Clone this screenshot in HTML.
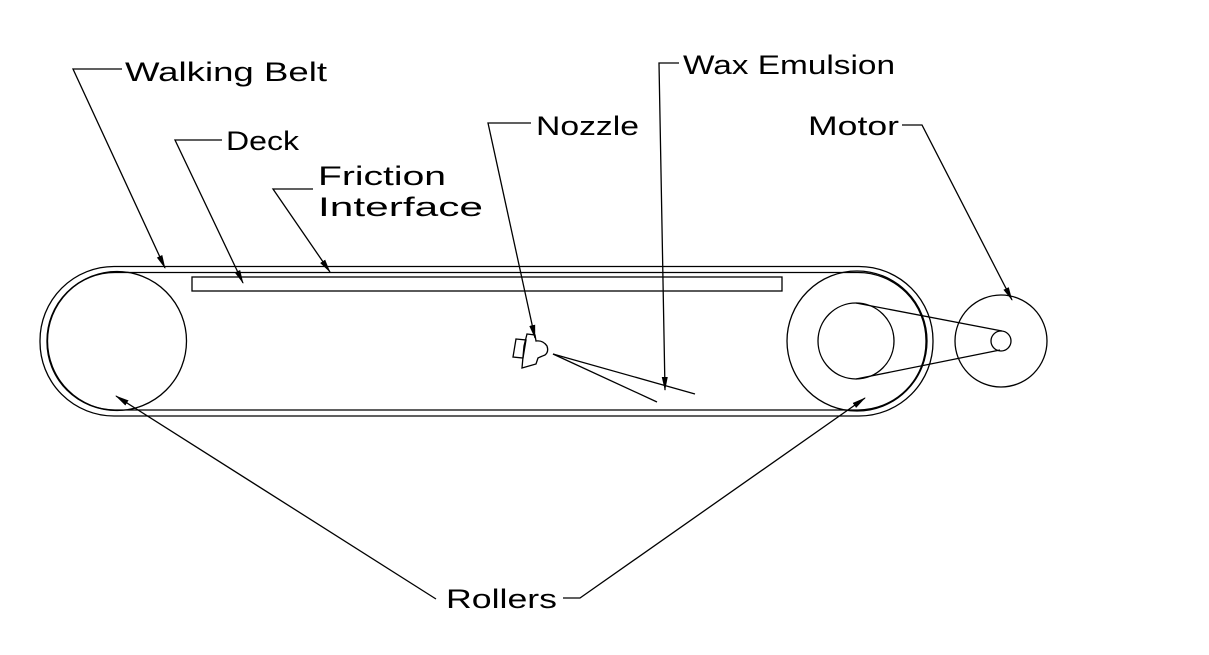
<!DOCTYPE html>
<html><head><meta charset="utf-8"><style>
html,body{margin:0;padding:0;background:#fff;}
svg{display:block;}
text{font-family:"Liberation Sans",sans-serif;font-size:27px;fill:#000;}
</style></head><body>
<svg width="1209" height="655" viewBox="0 0 1209 655" xmlns="http://www.w3.org/2000/svg">
<defs>
<marker id="a" markerWidth="14" markerHeight="8" refX="13" refY="4" orient="auto" markerUnits="userSpaceOnUse">
<path d="M0,1 L14,4 L0,7 z" fill="#000"/></marker>
</defs>
<g fill="none" stroke="#000" stroke-width="1.3">
<!-- belt -->
<rect x="40" y="266.5" width="893" height="149.5" rx="74" ry="74"/>
<rect x="47" y="272.5" width="879" height="137.5" rx="68" ry="68"/>
<!-- deck -->
<rect x="192" y="277" width="590" height="14"/>
<!-- rollers -->
<circle cx="117" cy="341" r="69.5"/>
<circle cx="857" cy="341" r="70"/>
<circle cx="856" cy="341" r="38"/>
<!-- motor -->
<circle cx="1001" cy="341" r="46"/>
<circle cx="1001" cy="341" r="10"/>
<line x1="856" y1="303" x2="1002" y2="331"/>
<line x1="856" y1="379" x2="1000" y2="350"/>
<!-- nozzle -->
<path d="M516,339 L526,340 L523,358 L513,357 Z"/>
<path d="M527,334 L535,335 L536,341 Q543,340 547,346 Q549,352 545,355 Q540,357 538,358 L536,364 L522,368 L524,346 Z"/>
<line x1="553" y1="354" x2="695" y2="394"/>
<line x1="553" y1="354" x2="657" y2="402"/>
<!-- leaders -->
<polyline points="122,69 73,69 165,268" marker-end="url(#a)"/>
<polyline points="222,140 175,140 243,283" marker-end="url(#a)"/>
<polyline points="313,189 273,189 330,272" marker-end="url(#a)"/>
<polyline points="531,123 488,123 535,338" marker-end="url(#a)"/>
<polyline points="679,63 659,63 665,390" marker-end="url(#a)"/>
<polyline points="902,125 922,125 1012,300" marker-end="url(#a)"/>
<polyline points="436,599 116,396" marker-end="url(#a)"/>
<polyline points="563,598 580,598 865,398" marker-end="url(#a)"/>
</g>
<text x="125" y="81" textLength="202" lengthAdjust="spacingAndGlyphs">Walking Belt</text>
<text x="226" y="150" textLength="73" lengthAdjust="spacingAndGlyphs">Deck</text>
<text x="318" y="185" textLength="128" lengthAdjust="spacingAndGlyphs">Friction</text>
<text x="318" y="216" textLength="165" lengthAdjust="spacingAndGlyphs">Interface</text>
<text x="536" y="135" textLength="103" lengthAdjust="spacingAndGlyphs">Nozzle</text>
<text x="683" y="74" textLength="212" lengthAdjust="spacingAndGlyphs">Wax Emulsion</text>
<text x="808" y="135" textLength="91" lengthAdjust="spacingAndGlyphs">Motor</text>
<text x="446" y="608" textLength="111" lengthAdjust="spacingAndGlyphs">Rollers</text>
</svg>
</body></html>
